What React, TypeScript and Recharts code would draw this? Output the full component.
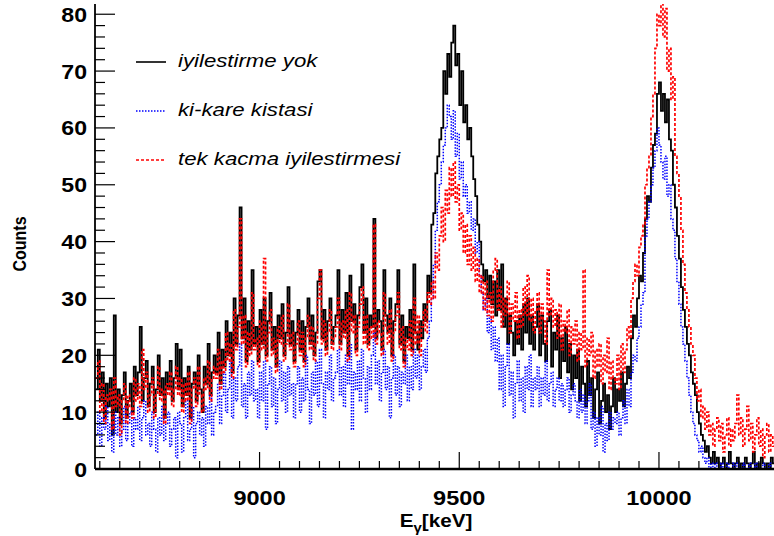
import React from 'react';
import { LineChart, Line, XAxis, YAxis, Legend, Label } from 'recharts';

// Histogram binning (keV)
const E_START = 8590;
const BIN_WIDTH = 5;
const X_MIN = 8588;
const X_MAX = 10288;
const Y_MAX = 81.8;

const X_TICKS = [8600, 8650, 8700, 8750, 8800, 8850, 8900, 8950, 9000, 9050, 9100, 9150, 9200, 9250, 9300, 9350, 9400, 9450, 9500, 9550, 9600, 9650, 9700, 9750, 9800, 9850, 9900, 9950, 10000, 10050, 10100, 10150, 10200, 10250];
const X_TICK_LABELS = [9000, 9500, 10000];
const Y_TICKS = [0, 2, 4, 6, 8, 10, 12, 14, 16, 18, 20, 22, 24, 26, 28, 30, 32, 34, 36, 38, 40, 42, 44, 46, 48, 50, 52, 54, 56, 58, 60, 62, 64, 66, 68, 70, 72, 74, 76, 78, 80];
const Y_TICK_LABELS = [0, 10, 20, 30, 40, 50, 60, 70, 80];

const SERIES_NAMES = ['iyilestirme yok', 'ki-kare kistasi', 'tek kacma iyilestirmesi'];

// iyilestirme yok (black, solid) - 5 keV bins from 8590
const noCorrection = [
  14, 21, 12, 17, 9, 15, 11, 16, 6, 27, 10, 14, 8, 13, 17, 9, 12, 15, 10, 18,
  13, 17, 25, 12, 16, 19, 11, 15, 18, 10, 14, 20, 13, 16, 9, 17, 14, 19, 12, 16,
  22, 14, 21, 11, 16, 13, 18, 9, 15, 17, 12, 20, 14, 10, 18, 15, 22, 13, 17, 20,
  17, 24, 15, 21, 18, 26, 20, 24, 17, 30, 22, 27, 46, 23, 30, 19, 26, 21, 35, 22,
  25, 19, 28, 22, 30, 20, 26, 31, 21, 25, 18, 27, 23, 29, 20, 24, 32, 22, 26, 19,
  24, 28, 21, 26, 19, 25, 30, 22, 27, 20, 24, 33, 35, 23, 28, 21, 26, 30, 22, 25,
  27, 35, 22, 28, 24, 31, 20, 34, 26, 29, 21, 27, 32, 36, 24, 30, 22, 27, 25, 44,
  23, 28, 26, 21, 35, 27, 24, 30, 20, 26, 29, 35, 22, 27, 19, 25, 23, 28, 21, 36,
  24, 21, 26, 23, 29, 26, 34, 31, 43, 45, 52, 55, 58, 60, 70, 66, 73, 69, 75, 78,
  71, 73, 64, 70, 61, 64, 58, 60, 55, 51, 48, 43, 40, 36, 33, 35, 30, 34, 29, 33,
  27, 35, 28, 36, 25, 30, 22, 27, 24, 20, 26, 22, 27, 21, 29, 24, 30, 22, 27, 21,
  25, 29, 20, 27, 22, 19, 26, 28, 18, 24, 21, 27, 16, 23, 19, 25, 17, 22, 14, 20,
  16, 21, 12, 18, 15, 11, 19, 13, 16, 9, 14, 17, 8, 12, 15, 10, 13, 7, 11, 16,
  10, 14, 12, 17, 11, 15, 18, 16, 23, 27, 25, 30, 34, 33, 38, 44, 48, 47, 53, 57,
  59, 66, 68, 63, 66, 61, 65, 58, 56, 50, 46, 41, 37, 32, 28, 25, 22, 20, 17, 15,
  13, 10, 8, 6, 5, 3, 4, 2, 1, 3, 1, 2, 0, 1, 2, 0, 1, 3, 1, 0,
  1, 2, 0, 1, 0, 2, 1, 0, 1, 3, 0, 1, 0, 2, 1, 0, 1, 0, 2, 1,
];

// ki-kare kistasi (blue, dotted)
const chiSquare = [
  6, 10, 4, 9, 7, 11, 5, 8, 3, 10, 6, 9, 4, 7, 11, 5, 8, 10, 4, 9,
  7, 11, 5, 9, 12, 6, 8, 4, 10, 7, 3, 9, 6, 11, 5, 8, 10, 4, 7, 9,
  2, 10, 8, 3, 9, 12, 5, 7, 11, 2, 8, 10, 6, 9, 4, 11, 8, 13, 6, 10,
  11, 15, 8, 13, 17, 10, 14, 19, 9, 16, 12, 18, 22, 11, 15, 9, 17, 13, 19, 12,
  14, 9, 17, 12, 19, 7, 15, 18, 11, 16, 8, 14, 19, 12, 17, 10, 18, 13, 15, 9,
  15, 18, 10, 16, 12, 20, 14, 8, 17, 13, 19, 11, 21, 15, 9, 17, 14, 20, 12, 16,
  17, 21, 13, 18, 11, 20, 15, 22, 7, 17, 14, 19, 12, 21, 16, 10, 18, 14, 20, 24,
  15, 19, 12, 17, 21, 14, 18, 9, 16, 20, 13, 18, 11, 17, 15, 20, 12, 18, 14, 21,
  16, 20, 14, 18, 21, 17, 23, 26, 30, 36, 42, 47, 50, 54, 57, 60, 64, 62, 58, 63,
  55, 59, 51, 54, 48, 50, 45, 47, 42, 44, 38, 40, 34, 31, 28, 30, 24, 27, 21, 25,
  19, 23, 14, 20, 11, 18, 22, 13, 17, 9, 15, 19, 12, 16, 10, 18, 14, 20, 11, 16,
  14, 18, 11, 16, 13, 19, 12, 15, 17, 11, 14, 16, 12, 15, 11, 14, 16, 10, 13, 15,
  12, 9, 14, 10, 13, 8, 12, 15, 7, 10, 4, 9, 6, 11, 3, 8, 5, 10, 7, 9,
  8, 10, 6, 9, 12, 8, 14, 11, 17, 20, 19, 23, 25, 29, 31, 41, 44, 47, 50, 53,
  56, 60, 57, 54, 51, 55, 48, 50, 44, 42, 37, 33, 29, 25, 22, 19, 16, 13, 10, 8,
  6, 5, 3, 4, 2, 1, 2, 0, 1, 0, 1, 0, 0, 1, 0, 0, 1, 0, 0, 1,
  0, 1, 0, 0, 1, 0, 0, 1, 0, 0, 1, 0, 0, 0, 1, 0, 0, 1, 0, 0,
];

// tek kacma iyilestirmesi (red, dashed)
const singleEscape = [
  16, 19, 10, 15, 8, 13, 12, 14, 7, 16, 11, 13, 6, 12, 15, 8, 13, 11, 9, 16,
  12, 15, 11, 21, 14, 17, 10, 13, 16, 9, 13, 18, 12, 14, 8, 15, 13, 17, 11, 14,
  18, 13, 16, 10, 15, 12, 17, 8, 14, 16, 11, 18, 13, 10, 16, 14, 19, 12, 16, 18,
  16, 21, 14, 19, 17, 24, 19, 22, 16, 28, 21, 25, 44, 22, 27, 18, 24, 20, 31, 21,
  23, 18, 26, 21, 37, 19, 24, 28, 20, 23, 17, 25, 22, 27, 19, 22, 29, 21, 24, 18,
  22, 26, 20, 24, 18, 23, 27, 21, 25, 19, 22, 30, 35, 22, 26, 20, 24, 28, 21, 23,
  25, 30, 21, 26, 23, 28, 19, 31, 24, 27, 20, 25, 29, 32, 22, 27, 21, 25, 23, 43,
  22, 26, 24, 20, 31, 25, 22, 28, 19, 24, 27, 31, 21, 25, 18, 23, 21, 26, 20, 30,
  22, 27, 20, 25, 28, 24, 31, 29, 33, 30, 38, 35, 41, 46, 40, 49, 45, 53, 48, 54,
  47, 50, 42, 45, 38, 43, 36, 41, 35, 39, 33, 37, 31, 34, 28, 33, 27, 31, 26, 35,
  37, 28, 32, 25, 30, 27, 33, 24, 29, 26, 31, 23, 28, 25, 32, 27, 34, 26, 30, 24,
  28, 31, 24, 29, 26, 22, 35, 27, 30, 25, 28, 23, 29, 21, 26, 24, 28, 20, 25, 22,
  26, 19, 24, 21, 35, 18, 23, 20, 24, 16, 21, 18, 22, 15, 20, 17, 23, 14, 19, 16,
  15, 20, 14, 22, 17, 21, 25, 23, 30, 33, 36, 34, 39, 41, 43, 50, 53, 55, 62, 66,
  74, 80, 78, 84, 76, 81, 70, 74, 65, 69, 55, 52, 48, 42, 36, 31, 28, 25, 22, 20,
  16, 12, 14, 9, 11, 7, 10, 6, 8, 4, 7, 9, 5, 8, 3, 6, 9, 4, 7, 5,
  8, 13, 6, 9, 4, 7, 11, 5, 8, 3, 6, 9, 4, 7, 2, 6, 8, 3, 6, 4,
];

const data = noCorrection.map((v, i) => ({
  e: E_START + i * BIN_WIDTH,
  a: v,
  b: chiSquare[i],
  c: singleEscape[i],
}));
// closing edge of the last bin so the step is drawn to its end
data.push({
  e: E_START + noCorrection.length * BIN_WIDTH,
  a: noCorrection[noCorrection.length - 1],
  b: chiSquare[chiSquare.length - 1],
  c: singleEscape[singleEscape.length - 1],
});

const FONT = '"Liberation Sans", Arial, Helvetica, sans-serif';
const PLOT_LEFT = 95;
const PLOT_BOTTOM = 469;

const YTick = (props: any) => {
  const { y, payload } = props;
  const v = payload.value;
  const major = Y_TICK_LABELS.includes(v);
  return (
    <g>
      <line x1={PLOT_LEFT} x2={PLOT_LEFT + (major ? 20 : 10)} y1={y} y2={y} stroke="#000" strokeWidth={1.2} />
      {major && (
        <text
          transform={`translate(87,${y}) scale(1.1,1)`}
          textAnchor="end"
          dy="0.36em"
          fontFamily={FONT}
          fontWeight="bold"
          fontSize={21}
          fill="#000"
        >
          {v}
        </text>
      )}
    </g>
  );
};

const XTick = (props: any) => {
  const { x, payload } = props;
  const v = payload.value;
  const major = X_TICK_LABELS.includes(v);
  return (
    <g>
      <line x1={x} x2={x} y1={PLOT_BOTTOM} y2={PLOT_BOTTOM - (major ? 17 : 8)} stroke="#000" strokeWidth={1.2} />
      {major && (
        <text
          transform={`translate(${x},497) scale(1.12,1)`}
          textAnchor="middle"
          dy="0.36em"
          fontFamily={FONT}
          fontWeight="bold"
          fontSize={21}
          fill="#000"
        >
          {v}
        </text>
      )}
    </g>
  );
};

const XTitle = () => (
  <text
    transform="translate(436,527) scale(1.15,1)"
    textAnchor="middle"
    fontFamily={FONT}
    fontWeight="bold"
    fontSize={18}
    fill="#000"
  >
    <tspan>E</tspan>
    <tspan dy={5} fontSize={13}>γ</tspan>
    <tspan dy={-5}>[keV]</tspan>
  </text>
);

const YTitle = () => (
  <text
    transform="translate(26,244) rotate(-90) scale(1,1.15)"
    textAnchor="middle"
    fontFamily={FONT}
    fontWeight="bold"
    fontSize={16}
    fill="#000"
  >
    Counts
  </text>
);

const LEGEND_STYLES = [
  { color: '#000000', dash: undefined as string | undefined, w: 1.6 },
  { color: '#0000ff', dash: '1.5 1.5', w: 1.5 },
  { color: '#ff0000', dash: '3 2', w: 1.5 },
];

const LegendBox = () => (
  <svg width={774} height={200} style={{ display: 'block' }}>
    {SERIES_NAMES.map((name, i) => {
      const ly = 62 + i * 49;
      return (
        <g key={name}>
          <line x1={136} x2={166} y1={ly} y2={ly} stroke={LEGEND_STYLES[i].color} strokeWidth={LEGEND_STYLES[i].w} strokeDasharray={LEGEND_STYLES[i].dash} />
          <text
            transform={`translate(178,${ly + 5}) scale(1.17,1)`}
            fontFamily={FONT}
            fontStyle="italic"
            fontSize={19}
            fill="#000"
          >
            {name}
          </text>
        </g>
      );
    })}
  </svg>
);

export default function App() {
  return (
    <div style={{ position: 'absolute', left: 0, top: 0, background: '#fff' }}>
      <LineChart width={774} height={536} data={data} margin={{ top: 4, right: 0, bottom: 0, left: 0 }}>
        <XAxis
          xAxisId="bottom"
          dataKey="e"
          type="number"
          domain={[X_MIN, X_MAX]}
          allowDataOverflow
          ticks={X_TICKS}
          interval={0}
          tickLine={false}
          axisLine={{ stroke: '#000', strokeWidth: 2.5 }}
          tick={(p: any) => <XTick {...p} />}
          height={67}
        >
          <Label content={() => <XTitle />} />
        </XAxis>
        <XAxis
          xAxisId="top"
          orientation="top"
          dataKey="e"
          type="number"
          domain={[X_MIN, X_MAX]}
          allowDataOverflow
          height={0}
          tick={false}
          tickLine={false}
          axisLine={{ stroke: '#000', strokeWidth: 1.5 }}
        />
        <YAxis
          type="number"
          domain={[0, Y_MAX]}
          allowDataOverflow
          ticks={Y_TICKS}
          interval={0}
          width={95}
          tickLine={false}
          axisLine={{ stroke: '#000', strokeWidth: 1.8 }}
          tick={(p: any) => <YTick {...p} />}
        >
          <Label content={() => <YTitle />} />
        </YAxis>
        <Line xAxisId="bottom" type="stepAfter" dataKey="a" name={SERIES_NAMES[0]} stroke="#000000" strokeWidth={1.8} dot={false} activeDot={false} isAnimationActive={false} />
        <Line xAxisId="bottom" type="stepAfter" dataKey="b" name={SERIES_NAMES[1]} stroke="#0000ff" strokeWidth={1.5} strokeDasharray="1.5 1.5" dot={false} activeDot={false} isAnimationActive={false} />
        <Line xAxisId="bottom" type="stepAfter" dataKey="c" name={SERIES_NAMES[2]} stroke="#ff0000" strokeWidth={1.7} strokeDasharray="3 2" dot={false} activeDot={false} isAnimationActive={false} />
        <Legend
          content={() => <LegendBox />}
          layout="vertical"
          align="center"
          verticalAlign="middle"
          wrapperStyle={{ left: 0, top: 0, width: 774, height: 200 }}
        />
      </LineChart>
    </div>
  );
}
